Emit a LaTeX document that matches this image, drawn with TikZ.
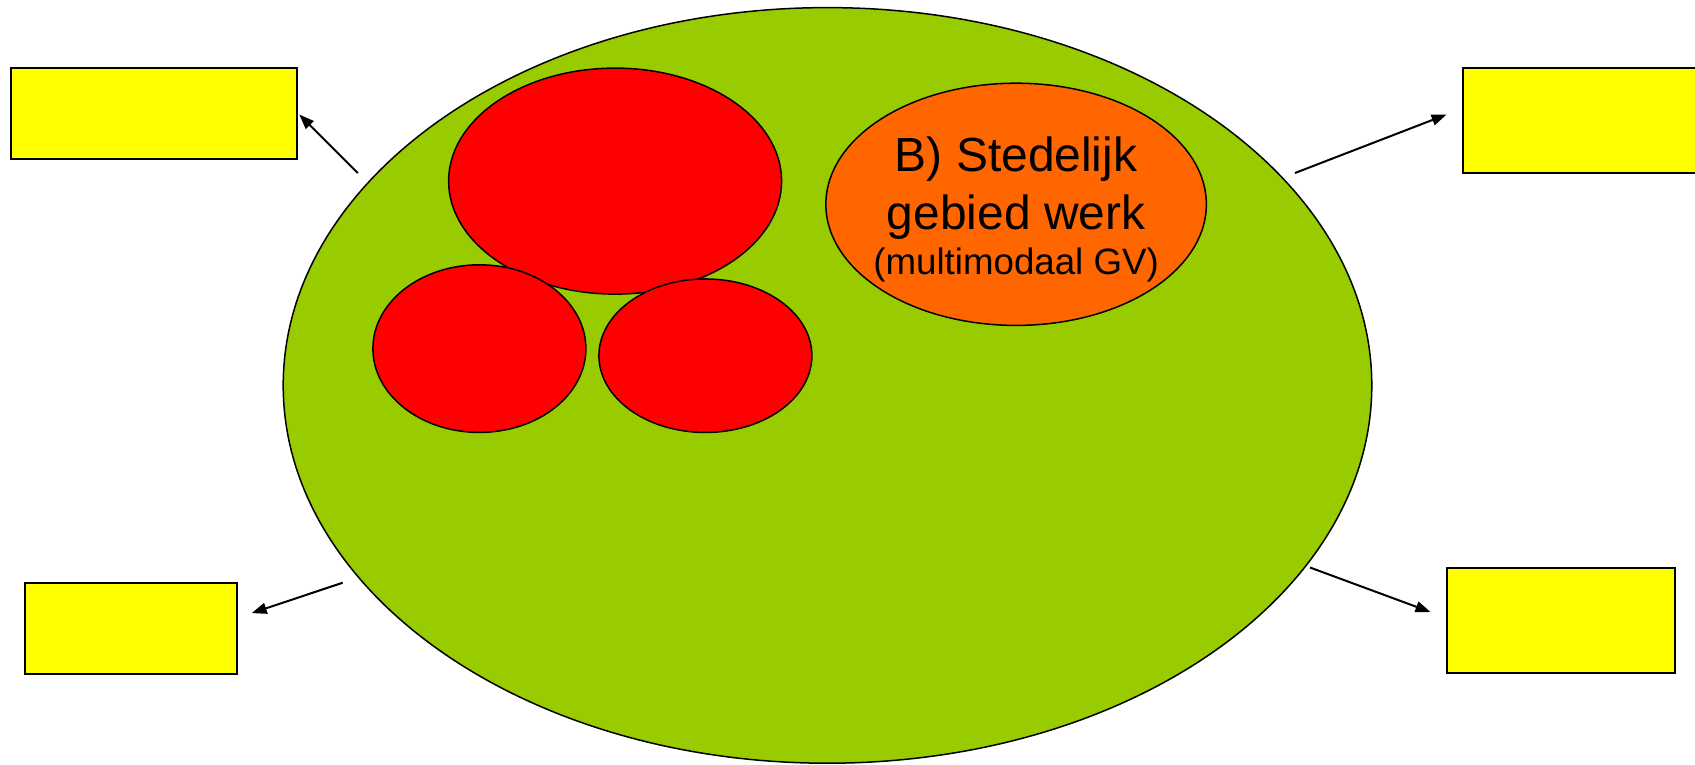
\documentclass[tikz,border=0pt]{standalone}
\usepackage{fontspec}
\setmainfont{Liberation Sans}
\usepackage{xcolor}
\usetikzlibrary{shapes.geometric,arrows.meta}
\definecolor{areagreen}{HTML}{99CC00}
\definecolor{areared}{HTML}{FF0000}
\definecolor{areaorange}{HTML}{FF6600}
\definecolor{boxyellow}{HTML}{FFFF00}

\begin{document}
\begin{tikzpicture}[x=1pt,y=-1pt,
	area/.style={ellipse,draw=black,line width=1.5pt,inner sep=0pt,outer sep=0pt},
	infobox/.style={rectangle,draw=black,line width=2pt,fill=boxyellow,inner sep=0pt,outer sep=0pt},
	pointer/.style={-{Triangle[length=15pt,width=11pt]},line width=2pt}]
	\useasboundingbox (0,0) rectangle (1695,764);
	\clip (0,0) rectangle (1695,764);

	% gebied
	\node[area,fill=areagreen,minimum width=1088.6pt,minimum height=755.6pt] (green) at (827.5,385.4) {};
	\node[area,fill=areared,minimum width=333pt,minimum height=226pt] (redtop) at (615.1,181.1) {};
	\node[area,fill=areared,minimum width=213pt,minimum height=167.6pt] (redleft) at (479.4,348.6) {};
	\node[area,fill=areared,minimum width=213pt,minimum height=153.5pt] (redright) at (705.4,355.7) {};
	\node[area,fill=areaorange,minimum width=380.5pt,minimum height=242.2pt] (orange) at (1016.1,204.3) {};
	\node[align=center,inner sep=0pt,font=\fontsize{47.9}{45}\selectfont] (lblB) at ([yshift=-5.5pt]orange.center)
		{B) Stedelijk\\[13pt] gebied werk\\ {\fontsize{36.7}{45}\selectfont (multimodaal GV)}};

	% boxes
	\node[infobox,minimum width=286.5pt,minimum height=91pt] (tl) at (154,113.5) {};
	\node[infobox,minimum width=290pt,minimum height=105pt] (tr) at (1607.6,120.5) {};
	\node[infobox,minimum width=211.8pt,minimum height=90.8pt] (bl) at (130.8,628.1) {};
	\node[infobox,minimum width=228pt,minimum height=105pt] (br) at (1560.5,620) {};

	\coordinate (s1) at (357.8,173);
	\coordinate (s2) at (1295,173);
	\coordinate (s3) at (342.7,582.7);
	\coordinate (s4) at (1310,567.5);

	\draw[pointer] (s1) -- ([shift={(2,1)}]tl.east);
	\draw[pointer] (s2) -- ([shift={(-16,-6)}]tr.west);
	\draw[pointer] (s3) -- ([shift={(15,-15)}]bl.east);
	\draw[pointer] (s4) -- ([shift={(-16,-8)}]br.west);

\end{tikzpicture}
\end{document}
